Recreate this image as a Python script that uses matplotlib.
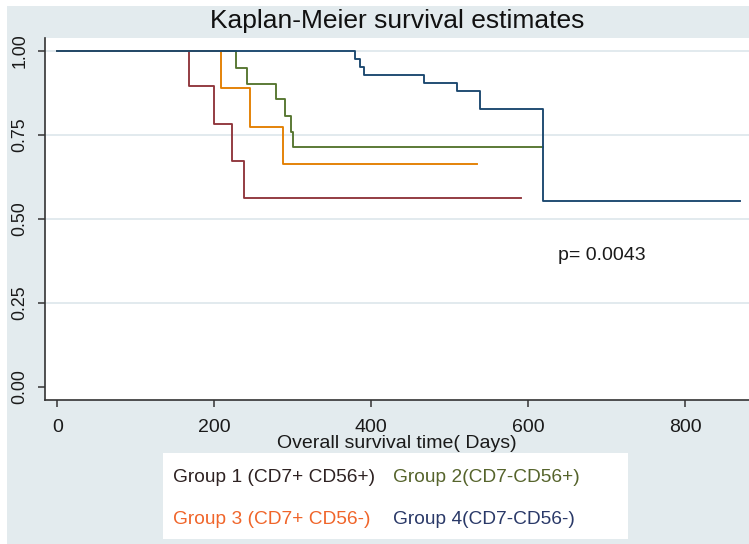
import matplotlib
matplotlib.use("Agg")
import matplotlib.pyplot as plt
from matplotlib.patches import Rectangle

plt.rcParams['font.family'] = ['Liberation Sans', 'DejaVu Sans']

# survival curves (days, survival probability)
g1_time = [0, 168, 200, 223, 238, 591]
g1_surv = [1.0, 0.897, 0.783, 0.672, 0.562, 0.562]
g2_time = [0, 228, 241, 279, 290, 297, 300, 619]
g2_surv = [1.0, 0.949, 0.902, 0.856, 0.807, 0.758, 0.714, 0.714]
g3_time = [0, 209, 246, 288, 534]
g3_surv = [1.0, 0.889, 0.775, 0.663, 0.663]
g4_time = [0, 379, 386, 390, 467, 509, 538, 619, 870]
g4_surv = [1.0, 0.975, 0.953, 0.929, 0.906, 0.882, 0.828, 0.553, 0.553]

labels = ["Group 1 (CD7+ CD56+)", "Group 2(CD7-CD56+)",
          "Group 3 (CD7+ CD56-)", "Group 4(CD7-CD56-)"]
line_colors = ["#90353B", "#55752F", "#E37E00", "#1A476F"]
text_colors = ["#2E2222", "#56642C", "#F0652A", "#2A3968"]

xticks = [0, 200, 400, 600, 800]
yticks = [0.0, 0.25, 0.5, 0.75, 1.0]
p_text = "p= 0.0043"

bg = "#E3EBEE"
fig = plt.figure(figsize=(7.49, 5.44), dpi=100, facecolor="white")
W, H = 749, 544
fig.patches.append(Rectangle((7 / W, 0), 1, 1 - 6 / H, transform=fig.transFigure,
                             facecolor=bg, edgecolor="none", zorder=-10))

ax = fig.add_axes([45 / W, 1 - 399.5 / H, 1 - 45 / W, (399.5 - 38) / H])
ax.set_facecolor("white")

for y in yticks[1:]:
    ax.axhline(y, color="#E2EAEE", lw=1.4, zorder=0)

curves = [(g1_time, g1_surv), (g2_time, g2_surv), (g3_time, g3_surv), (g4_time, g4_surv)]
for (t, s), c in zip(curves, line_colors):
    ax.step(t, s, where="post", color=c, lw=1.35)

ax.set_xlim(-15.7, 881)
ax.set_ylim(-0.038, 1.039)
ax.set_xticks(xticks)
ax.set_yticks(yticks)
ax.set_yticklabels(["%.2f" % v for v in yticks], rotation=90, va="center")
ax.tick_params(axis="both", color="#333333", length=5, width=1.1, labelcolor="#1a1a1a")
ax.tick_params(axis="x", labelsize=14, pad=9)
ax.tick_params(axis="y", labelsize=12.8, pad=7)
for side in ["top", "right"]:
    ax.spines[side].set_visible(False)
for side in ["left", "bottom"]:
    ax.spines[side].set_color("#333333")
    ax.spines[side].set_linewidth(1.2)

ax.set_title("Kaplan-Meier survival estimates", fontsize=19, color="#111111", pad=7)
ax.set_xlabel("Overall survival time( Days)", fontsize=14, color="#1a1a1a", labelpad=-1)
ax.text(638, 0.39, p_text, fontsize=14, color="#1a1a1a", va="center", ha="left")

# legend box with coloured text only
fig.patches.append(Rectangle((163 / W, 1 - 539 / H), (628 - 163) / W, (539 - 453) / H,
                             transform=fig.transFigure, facecolor="white",
                             edgecolor="none", zorder=-5))
pos = [(173, 477), (393, 477), (173, 520), (393, 520)]
for (x, y), lab, c in zip(pos, labels, text_colors):
    fig.text(x / W, 1 - y / H, lab, color=c, fontsize=13.8, va="center", ha="left")

fig.savefig("out.png", dpi=100, facecolor=fig.get_facecolor())
